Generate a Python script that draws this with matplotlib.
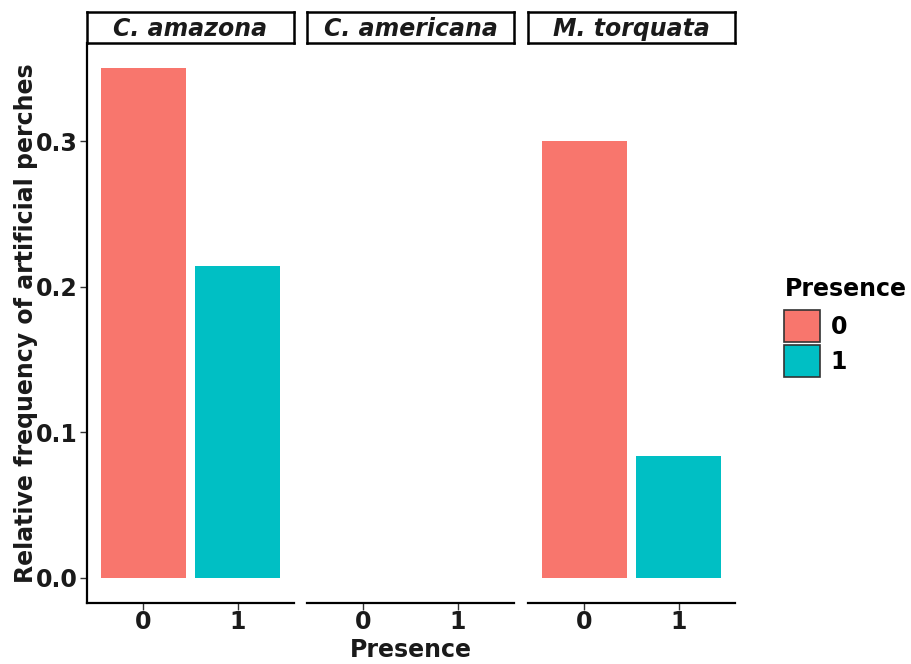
"""
Relative frequency of artificial perches by species and presence (faceted bar chart).
"""
import matplotlib.pyplot as plt
from matplotlib.patches import Patch

species = ["C. amazona", "C. americana", "M. torquata"]
presence = ["0", "1"]
# relative frequency per species, for presence 0 and 1 (C. americana has no bars)
freq_0 = [0.350, None, 0.300]
freq_1 = [0.2145, None, 0.0833]

COLORS = ["#F8766D", "#00BFC4"]
FONT = "DejaVu Sans"
FS = 17


def main() -> None:
    plt.rcParams["font.family"] = FONT
    plt.rcParams["font.weight"] = "bold"

    fig = plt.figure(figsize=(9.12, 6.64), dpi=100)

    lefts = [87, 307, 528]
    width_px = 207
    bottom = 1 - 603 / 664
    top = 1 - 43 / 664
    strip_top = 1 - 12 / 664

    for i, name in enumerate(species):
        ax = fig.add_axes([lefts[i] / 912, bottom, width_px / 912, top - bottom])
        vals = [freq_0[i], freq_1[i]]
        for j, v in enumerate(vals):
            if v is not None:
                ax.bar(j, v, width=0.9, color=COLORS[j])
        ax.set_xlim(-0.6, 1.6)
        ax.set_ylim(-0.0175, 0.3675)
        ax.set_xticks([0, 1])
        ax.set_xticklabels(presence, fontsize=FS, fontweight="bold")
        for side in ["top", "right"]:
            ax.spines[side].set_visible(False)
        ax.spines["bottom"].set_linewidth(1.6)
        ax.spines["left"].set_linewidth(1.6)
        ax.tick_params(axis="both", length=5, width=1, color="#333333",
                       labelsize=FS, pad=2, labelcolor="#1a1a1a")
        ax.tick_params(axis="x", pad=0)
        if i == 0:
            ax.set_yticks([0.0, 0.1, 0.2, 0.3])
            ax.set_yticklabels(["0.0", "0.1", "0.2", "0.3"], fontsize=FS,
                               fontweight="bold")
            ax.set_ylabel("Relative frequency of artificial perches", fontsize=FS,
                          fontweight="bold", labelpad=-2, color="#1a1a1a")
        else:
            ax.spines["left"].set_visible(False)
            ax.set_yticks([])
        if i == 1:
            ax.set_xlabel("Presence", fontsize=FS, fontweight="bold", labelpad=3,
                          color="#1a1a1a")

        # facet strip
        sax = fig.add_axes([lefts[i] / 912, top, width_px / 912, strip_top - top])
        sax.set_xticks([])
        sax.set_yticks([])
        for sp in sax.spines.values():
            sp.set_linewidth(1.8)
        sax.text(0.5, 0.45, name, ha="center", va="center", fontsize=FS,
                 fontweight="bold", fontstyle="italic", transform=sax.transAxes,
                 color="#1a1a1a")

    handles = [Patch(facecolor=c, edgecolor="#333333", linewidth=1.2) for c in COLORS]
    leg = fig.legend(handles, presence, title="Presence", loc="upper left",
                     bbox_to_anchor=(775 / 912, 1 - 268 / 664), frameon=False,
                     fontsize=FS, title_fontsize=FS, handlelength=1.5,
                     handleheight=1.75, handletextpad=0.45, labelspacing=0.1,
                     borderaxespad=0)
    leg.get_title().set_fontweight("bold")
    leg._legend_box.align = "left"
    leg._legend_box.sep = 6

    fig.savefig("out.png", dpi=100)
    plt.close(fig)


if __name__ == "__main__":
    main()
